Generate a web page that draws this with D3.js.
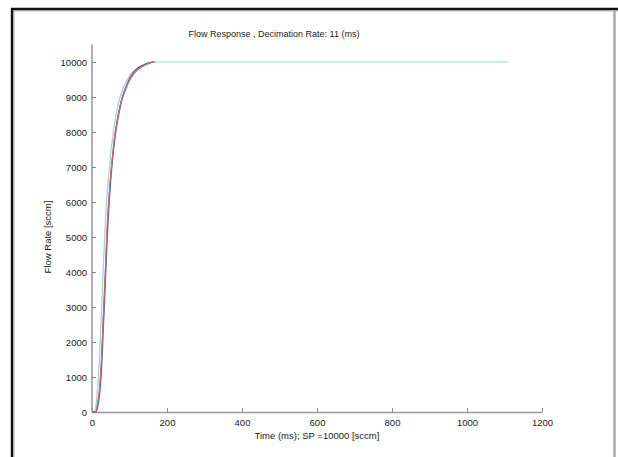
<!DOCTYPE html>
<html><head><meta charset="utf-8">
<script src="https://cdn.jsdelivr.net/npm/d3@7"></script>
<style>body{margin:0;background:#fff}svg{display:block}</style>
</head><body><svg id="c" width="618" height="457"></svg>
<script>
const times = [0,5,10,15,20,25,30,35,40,45,50,55,60,65,70,75,80,90,100,110,120,130,140,150,160,167];
const cyanTimes = times.concat([1111]);
const cyanVals = [0,0,150,700,1600,2800,4100,5300,6200,6850,7400,7850,8250,8550,8800,9000,9170,9420,9600,9730,9820,9890,9940,9975,9995,10000,10000];
const blueVals = [0,0,0,120,450,1100,2300,3500,4800,5800,6600,7200,7700,8100,8420,8690,8920,9220,9470,9640,9760,9840,9905,9955,9988,10000];
const redVals  = [0,0,0,250,650,1450,2700,3900,5200,6100,6800,7350,7850,8200,8500,8750,8970,9260,9500,9660,9770,9850,9910,9960,9990,10000];
const darkVals = [0,0,0,200,600,1350,2550,3750,5050,6000,6750,7300,7800,8170,8480,8740,8960,9280,9530,9700,9810,9880,9930,9970,9993,10000];
const xTicks = [0,200,400,600,800,1000,1200];
const yTicks = [0,1000,2000,3000,4000,5000,6000,7000,8000,9000,10000];
const title = "Flow Response , Decimation Rate: 11 (ms)";
const xLabel = "Time (ms); SP =10000 [sccm]";
const yLabel = "Flow Rate [sccm]";

const svg = d3.select("#c");
const font = "Liberation Sans, Arial, sans-serif";
// frame
svg.append("line").attr("x1",11).attr("x2",618).attr("y1",9).attr("y2",9).attr("stroke","#111").attr("stroke-width",2.4);
svg.append("line").attr("x1",11).attr("x2",618).attr("y1",10.9).attr("y2",10.9).attr("stroke","#999").attr("stroke-width",1);
svg.append("line").attr("x1",12).attr("x2",12).attr("y1",8).attr("y2",457).attr("stroke","#111").attr("stroke-width",2.4);
svg.append("line").attr("x1",13.9).attr("x2",13.9).attr("y1",10).attr("y2",457).attr("stroke","#999").attr("stroke-width",1);
svg.append("line").attr("x1",614.5).attr("x2",614.5).attr("y1",10).attr("y2",457).attr("stroke","#aaa").attr("stroke-width",2.5);

const x = d3.scaleLinear().domain([0,1200]).range([92,542]);
const y = d3.scaleLinear().domain([0,10500]).range([412,44.5]);

const gx = svg.append("g").attr("transform","translate(0,412)")
  .call(d3.axisBottom(x).tickValues(xTicks).tickSizeInner(-4).tickSizeOuter(0).tickPadding(7).tickFormat(d3.format("d")));
const gy = svg.append("g").attr("transform","translate(92,0)")
  .call(d3.axisLeft(y).tickValues(yTicks).tickSizeInner(-4).tickSizeOuter(0).tickPadding(5).tickFormat(d3.format("d")));
[gx,gy].forEach(g=>{
  g.select(".domain").attr("stroke","#999").attr("stroke-width",1.6);
  g.selectAll(".tick line").attr("stroke","#888").attr("stroke-width",1);
  g.selectAll("text").attr("fill","#1a1a1a").attr("font-family",font).attr("font-size","9.5px");
});
gy.select(".domain").attr("d",`M0,${y(10500)}V412`);

const line = d3.line().x(d=>x(d[0])).y(d=>y(d[1])).curve(d3.curveMonotoneX);
const series = [
  {t:cyanTimes, v:cyanVals, c:"#93d9dc"},
  {t:times, v:blueVals, c:"#8078ea"},
  {t:times, v:darkVals, c:"#3f6a62"},
  {t:times, v:redVals, c:"#d8646e"}
];
series.forEach(s=>{
  svg.append("path").datum(s.t.map((t,i)=>[t,s.v[i]]))
    .attr("d",line).attr("fill","none").attr("stroke",s.c).attr("stroke-width",1.2);
});

svg.append("text").attr("x",274).attr("y",37).attr("text-anchor","middle")
  .attr("font-family",font).attr("font-size","9px").attr("fill","#1a1a1a").text(title);
svg.append("text").attr("x",317).attr("y",439).attr("text-anchor","middle")
  .attr("font-family",font).attr("font-size","9.5px").attr("fill","#1a1a1a").text(xLabel);
svg.append("text").attr("transform","translate(51,237) rotate(-90)").attr("text-anchor","middle")
  .attr("font-family",font).attr("font-size","9.5px").attr("fill","#1a1a1a").text(yLabel);
</script></body></html>
